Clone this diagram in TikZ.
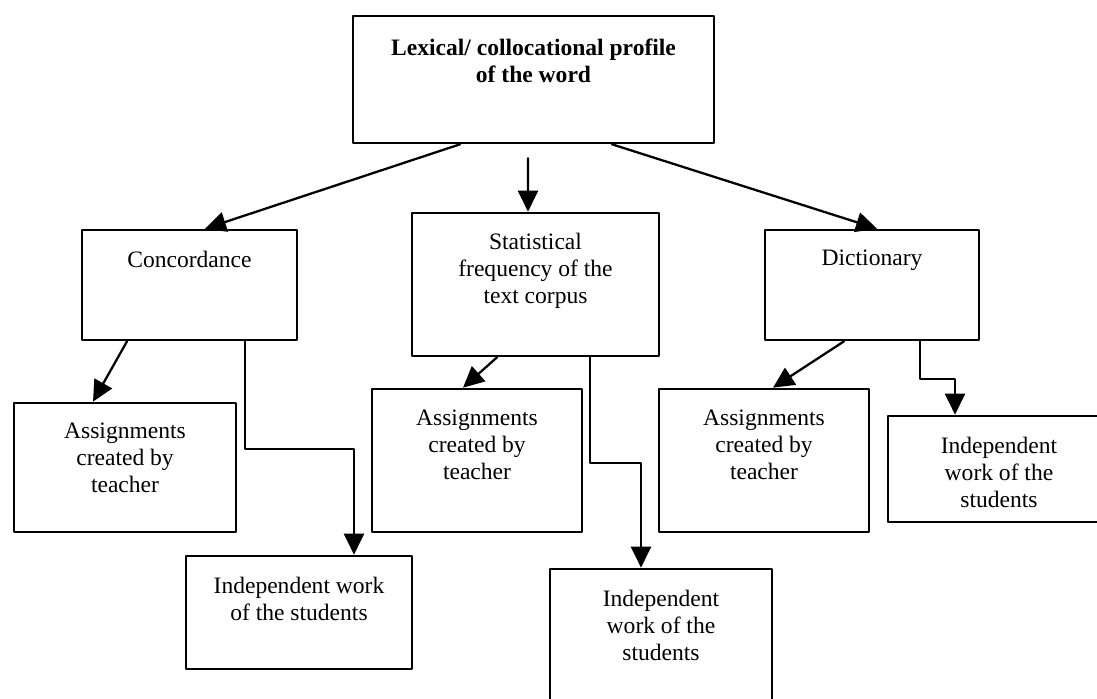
\documentclass[tikz,border=0pt]{standalone}
\usepackage{fontspec}
\setmainfont{Liberation Serif}
\usetikzlibrary{positioning,arrows.meta}

\tikzset{
  box/.style={draw, line width=1.5pt, rectangle, inner sep=0pt},
  txt/.style={inner sep=0pt, align=center, font=\fontsize{13.4pt}{15.3pt}\selectfont},
  arr/.style={line width=1.3pt, -{Triangle[length=0.42cm, width=0.40cm]}}
}

\begin{document}
\begin{tikzpicture}[line cap=round, line join=round]

% Fix the page size
\useasboundingbox (0,0) rectangle (21.94,-13.98);

% Top box
\node[box, minimum width=7.22cm, minimum height=2.54cm] (prof) at (10.67,-1.59) {};
\node[txt, font=\fontsize{13.4pt}{15.3pt}\selectfont\bfseries, below=0.48cm of prof.north] (profT)
  {Lexical/ collocational profile\\of the word};

% Second row
\node[box, minimum width=4.30cm, minimum height=2.20cm] (conc) at (3.79,-5.70) {};
\node[txt, below=0.44cm of conc.north] (concT) {Concordance};

\node[box, minimum width=4.94cm, minimum height=2.86cm] (stat) at (10.71,-5.69) {};
\node[txt, below=0.42cm of stat.north] (statT) {Statistical\\frequency of the\\text corpus};

\node[box, minimum width=4.28cm, minimum height=2.20cm] (dict) at (17.44,-5.70) {};
\node[txt, below=0.42cm of dict.north] (dictT) {Dictionary};

% Assignments
\node[box, minimum width=4.44cm, minimum height=2.58cm] (asgA) at (2.50,-9.35) {};
\node[txt, below=0.42cm of asgA.north] (asgAT) {Assignments\\created by\\teacher};

\node[box, minimum width=4.20cm, minimum height=2.86cm] (asgB) at (9.54,-9.21) {};
\node[txt, below=0.44cm of asgB.north] (asgBT) {Assignments\\created by\\teacher};

\node[box, minimum width=4.20cm, minimum height=2.86cm] (asgC) at (15.28,-9.21) {};
\node[txt, below=0.44cm of asgC.north] (asgCT) {Assignments\\created by\\teacher};

% Independent work
\node[box, minimum width=4.52cm, minimum height=2.26cm] (indA) at (5.98,-12.25) {};
\node[txt, below=0.44cm of indA.north] (indAT) {Independent work\\of the students};

\node[box, minimum width=4.44cm, minimum height=3.02cm] (indB) at (13.22,-12.89) {};
\node[txt, below=0.44cm of indB.north] (indBT) {Independent\\work of the\\students};

\node[box, minimum width=4.44cm, minimum height=2.12cm] (indC) at (19.98,-9.38) {};
\node[txt, below=0.44cm of indC.north] (indCT) {Independent\\work of the\\students};

% Arrows from the top box
\draw[arr] ([xshift=-1.47cm]prof.south) -- ([xshift=0.31cm]conc.north);
\draw[arr] ([xshift=-0.11cm, yshift=-0.28cm]prof.south) -- ([xshift=-0.15cm]stat.north);
\draw[arr] ([xshift=1.57cm]prof.south) -- ([xshift=0.10cm]dict.north);

% Arrows from the second row
\draw[arr] ([xshift=-1.25cm]conc.south) -- ([xshift=-0.64cm]asgA.north);
\draw[arr] ([xshift=1.11cm]conc.south) -- ++(0,-2.16) -| ([xshift=1.10cm]indA.north);

\draw[arr] ([xshift=-0.77cm]stat.south) -- ([xshift=-0.28cm]asgB.north);
\draw[arr] ([xshift=1.09cm]stat.south) -- ++(0,-2.12) -| ([xshift=-0.40cm]indB.north);

\draw[arr] ([xshift=-0.56cm]dict.south) -- ([xshift=0.18cm]asgC.north);
\draw[arr] ([xshift=0.96cm]dict.south) -- ++(0,-0.76) -| ([xshift=-0.88cm]indC.north);

\end{tikzpicture}
\end{document}
